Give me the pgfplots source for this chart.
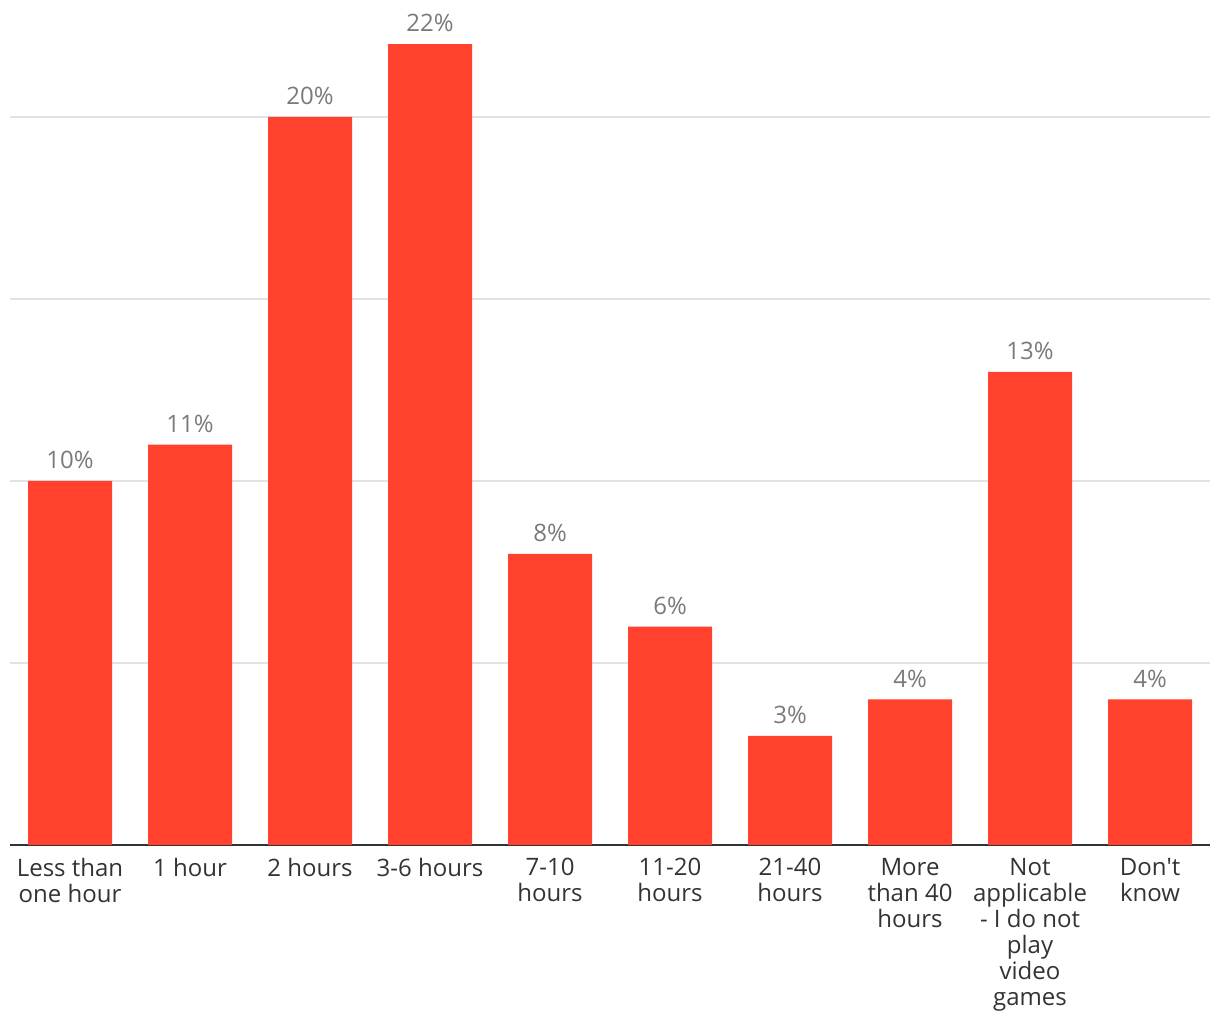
\documentclass[border=0pt]{standalone}
\usepackage{fontspec}
\setmainfont{Open Sans}
\usepackage{pgfplots}
\pgfplotsset{compat=1.18}
\definecolor{barred}{HTML}{FF412E}
\definecolor{gridgrey}{HTML}{E3E3E3}
\definecolor{axisdark}{HTML}{333333}
\definecolor{numgrey}{HTML}{7A7A7A}
\definecolor{labdark}{HTML}{333333}
\begin{document}
\begin{tikzpicture}
\path[use as bounding box] (0,0) rectangle (610pt,510pt);
\begin{axis}[
  at={(5pt,87.5pt)}, anchor=south west,
  scale only axis, width=600pt, height=418.6pt,
  xmin=-0.5, xmax=9.5, ymin=0, ymax=23,
  ybar, bar width=42pt,
  xtick={0,...,9},
  xticklabels={{Less than\\one hour},{1 hour},{2 hours},{3-6 hours},{7-10\\hours},{11-20\\hours},{21-40\\hours},{More\\than 40\\hours},{Not\\applicable\\- I do not\\play\\video\\games},{Don\textquotesingle t\\know}},
  ytick={5,10,15,20}, yticklabels={},
  ymajorgrids, grid style={color=gridgrey, line width=0.6pt},
  axis x line*=bottom, axis y line*=left,
  y axis line style={draw=none},
  x axis line style={color=axisdark, line width=1pt},
  major tick length=0pt,
  /pgf/number format/assume math mode=true,
  xticklabel style={align=center, font=\fontsize{12}{13}\selectfont, text=labdark, anchor=north, inner sep=0pt, yshift=-6.5pt},
  nodes near coords={\pgfmathprintnumber{\pgfplotspointmeta}\%},
  every node near coord/.append style={font=\fontsize{12}{13}\selectfont, text=numgrey, yshift=2.5pt},
]
\addplot[fill=barred, draw=none] coordinates {(0,10) (1,11) (2,20) (3,22) (4,8) (5,6) (6,3) (7,4) (8,13) (9,4)};
\end{axis}
\end{tikzpicture}
\end{document}
